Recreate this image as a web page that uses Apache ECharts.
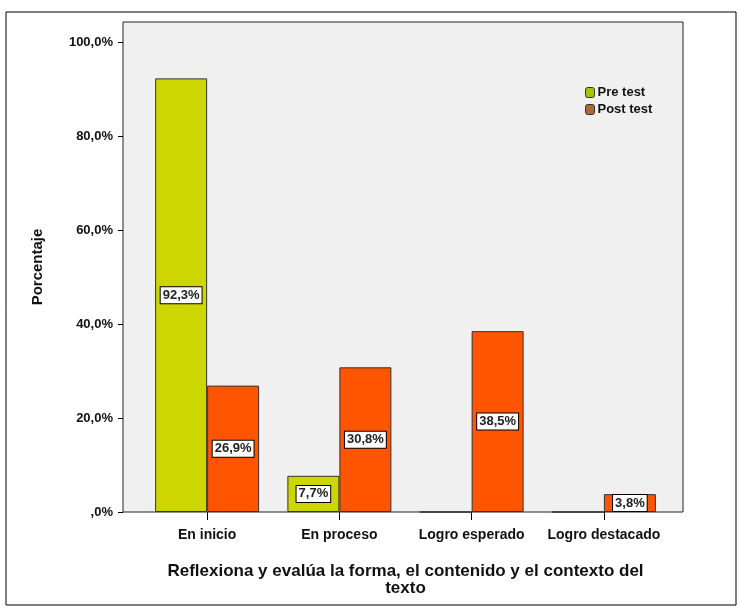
<!DOCTYPE html>
<html>
<head>
<meta charset="utf-8">
<script src="https://cdn.jsdelivr.net/npm/echarts@6/dist/echarts.min.js"></script>
<style>html,body{margin:0;padding:0;background:#fff}#c{width:739px;height:611px}</style>
</head>
<body>
<div id="c"></div>
<script>
const categories = ['En inicio', 'En proceso', 'Logro esperado', 'Logro destacado'];
const preTest = [92.3, 7.7, 0, 0];
const postTest = [26.9, 30.8, 38.5, 3.8];
const seriesNames = ['Pre test', 'Post test'];
const yTicks = [0, 20, 40, 60, 80, 100];

const fmt = v => (v === 0 ? ',0%' : v.toFixed(1).replace('.', ',') + '%');
const font = 'Liberation Sans, Arial, sans-serif';
const toData = arr => arr.map(v => (v > 0 ? v : {value: v, label: {show: false}}));

const chart = echarts.init(document.getElementById('c'), null, {renderer: 'canvas'});
const labelStyle = {
  show: true,
  position: 'inside',
  formatter: p => fmt(p.value),
  backgroundColor: '#fff',
  borderColor: '#000',
  borderWidth: 1,
  padding: [2, 2, 1, 2],
  color: '#222',
  fontWeight: 'bold',
  fontSize: 13,
  fontFamily: font
};
chart.setOption({
  animation: false,
  textStyle: {fontFamily: font},
  graphic: [
    {type: 'rect', z: -20, shape: {x: 6, y: 12, width: 730, height: 593}, style: {fill: '#fff', stroke: '#000', lineWidth: 1}},
    {type: 'rect', z: -10, shape: {x: 123, y: 22, width: 560, height: 490}, style: {fill: '#f0f0f0', stroke: '#222', lineWidth: 1}}
  ],
  grid: {left: 141, right: 69, top: 22, bottom: 99},
  legend: {
    orient: 'vertical', left: 580, top: 81, itemWidth: 9, itemHeight: 10, itemGap: 4,
    textStyle: {fontWeight: 'bold', fontSize: 13, color: '#111', fontFamily: font, padding: [0, 0, 0, -2]},
    data: [
      {name: seriesNames[0], itemStyle: {color: '#a8c400', borderColor: '#333', borderWidth: 1}},
      {name: seriesNames[1], itemStyle: {color: '#a86a3c', borderColor: '#333', borderWidth: 1}}
    ]
  },
  xAxis: {
    type: 'category', data: categories,
    axisLine: {show: false},
    axisTick: {show: true, alignWithLabel: true, interval: 0, length: 8, lineStyle: {color: '#000'}},
    axisLabel: {color: '#111', fontWeight: 'bold', fontSize: 14, margin: 16, interval: 0, hideOverlap: false, fontFamily: font},
    name: 'Reflexiona y evalúa la forma, el contenido y el contexto del\ntexto',
    nameLocation: 'middle', nameGap: 51,
    nameTextStyle: {fontWeight: 'bold', fontSize: 17, color: '#111', lineHeight: 17, fontFamily: font}
  },
  yAxis: {
    type: 'value', min: 0, max: 104.3, interval: 20, offset: 18,
    axisLine: {show: false},
    axisTick: {show: true, length: 5, lineStyle: {color: '#000'}, customValues: yTicks},
    splitLine: {show: false},
    axisLabel: {
      color: '#111', fontWeight: 'bold', fontSize: 13, margin: 10, fontFamily: font,
      customValues: yTicks, formatter: v => fmt(v)
    },
    name: 'Porcentaje', nameLocation: 'middle', nameGap: 78,
    nameTextStyle: {fontWeight: 'bold', fontSize: 15, color: '#111', fontFamily: font}
  },
  series: [
    {name: seriesNames[0], type: 'bar', data: toData(preTest), barWidth: 52, barGap: '0%',
     itemStyle: {color: '#cdd600', borderColor: '#333', borderWidth: 1}, label: labelStyle},
    {name: seriesNames[1], type: 'bar', data: toData(postTest), barWidth: 52, barGap: '0%',
     itemStyle: {color: '#ff5500', borderColor: '#333', borderWidth: 1}, label: labelStyle}
  ]
});
</script>
</body>
</html>
